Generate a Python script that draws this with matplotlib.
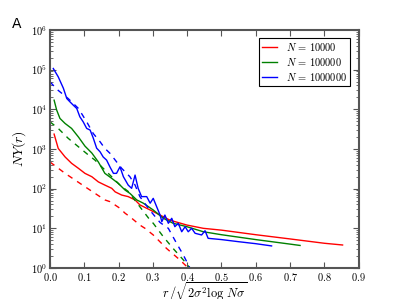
import math
import matplotlib
matplotlib.use("Agg")
import matplotlib.pyplot as plt
from matplotlib.ticker import FuncFormatter, LogLocator, FixedLocator

plt.rcParams['mathtext.fontset'] = 'cm'
plt.rcParams['xtick.direction'] = 'in'
plt.rcParams['ytick.direction'] = 'in'

# simulated curves (solid)
r_red = [0.012, 0.024, 0.044, 0.063, 0.083, 0.102, 0.122, 0.141, 0.160, 0.180,
         0.190, 0.209, 0.228, 0.248, 0.262, 0.292, 0.321, 0.350, 0.399, 0.447,
         0.500, 0.600, 0.700, 0.800, 0.853]
y_red = [2370, 1035, 630, 435, 325, 243, 200, 148, 123, 102,
         83, 69, 63, 52, 39, 29, 21.6, 16, 12.1, 10,
         9.0, 6.9, 5.4, 4.2, 3.8]

r_green = [0.012, 0.0195, 0.029, 0.044, 0.063, 0.083, 0.102, 0.122, 0.141, 0.160,
           0.180, 0.199, 0.219, 0.233, 0.253, 0.272, 0.301, 0.330, 0.359, 0.399,
           0.447, 0.500, 0.600, 0.700, 0.729]
y_green = [17000, 9550, 5900, 4400, 3300, 2000, 1180, 790, 470, 243,
           182, 136, 92, 76, 52, 43, 29, 18, 13.4, 11,
           8.2, 6.9, 5.2, 4.0, 3.7]

r_blue = [0.0096, 0.024, 0.039, 0.049, 0.058, 0.068, 0.078, 0.087, 0.097, 0.107,
          0.117, 0.126, 0.136, 0.146, 0.155, 0.165, 0.175, 0.185, 0.194, 0.204,
          0.214, 0.228, 0.238, 0.248, 0.257, 0.267, 0.282, 0.292, 0.301, 0.311,
          0.321, 0.326, 0.335, 0.345, 0.355, 0.364, 0.374, 0.384, 0.394, 0.403,
          0.413, 0.423, 0.442, 0.452, 0.461, 0.500, 0.550, 0.600, 0.646]
y_blue = [107000, 66000, 34000, 18700, 15500, 12700, 10500, 6500, 4800, 3300,
          3000, 1900, 1050, 850, 630, 525, 350, 243, 243, 355,
          200, 123, 102, 220, 102, 63, 63, 43, 57, 35,
          21.6, 14.7, 21.6, 13.4, 17.9, 11, 13.4, 8.2, 11, 8.2,
          10, 7.5, 6.8, 8.7, 5.6, 5.2, 4.6, 4.1, 3.6]

# theory curves (dashed)
r_red_th = [0.0, 0.044, 0.102, 0.160, 0.175, 0.204, 0.219, 0.233, 0.262, 0.277,
            0.301, 0.340, 0.379, 0.403]
y_red_th = [470, 243, 112, 52, 47, 32, 24, 19.6, 12.1, 10,
            6.8, 3.1, 1.59, 1.0]

r_green_th = [0.0, 0.024, 0.053, 0.083, 0.112, 0.131, 0.175, 0.204, 0.228, 0.262,
              0.292, 0.301, 0.330, 0.359, 0.389, 0.408]
y_green_th = [4840, 3300, 1860, 1135, 705, 525, 220, 123, 85, 35,
              16, 13.4, 6.2, 3.1, 1.59, 1.0]

r_blue_th = [0.0, 0.024, 0.053, 0.083, 0.107, 0.126, 0.146, 0.160, 0.175, 0.194,
             0.209, 0.233, 0.248, 0.262, 0.292, 0.321, 0.345, 0.369, 0.389, 0.408]
y_blue_th = [49000, 30000, 18700, 10500, 4840, 2460, 1520, 1035, 775, 475,
             325, 200, 123, 63, 28, 14, 10, 4.2, 2.1, 1.0]

labels = [r'$N\,=\,10000$', r'$N\,=\,100000$', r'$N\,=\,1000000$']
xticks = [0.0, 0.1, 0.2, 0.3, 0.4, 0.5, 0.6, 0.7, 0.8, 0.9]

fig = plt.figure(figsize=(3.99, 2.99), dpi=100)
ax = fig.add_axes([0.1253, 0.1037, 0.7737, 0.796])

ax.plot(r_red, y_red, color='r', lw=1.0, label=labels[0])
ax.plot(r_green, y_green, color='g', lw=1.0, label=labels[1])
ax.plot(r_blue, y_blue, color='b', lw=1.0, label=labels[2])
ax.plot(r_red_th, y_red_th, color='r', lw=1.0, ls='--', dashes=(4, 4))
ax.plot(r_green_th, y_green_th, color='g', lw=1.0, ls='--', dashes=(4, 4))
ax.plot(r_blue_th, y_blue_th, color='b', lw=1.0, ls='--', dashes=(4, 4))

ax.set_yscale('log')
ax.set_xlim(0, 0.9)
ax.set_ylim(1, 1e6)
ax.xaxis.set_major_locator(FixedLocator(xticks))
ax.xaxis.set_major_formatter(FuncFormatter(lambda v, p: r'$%.1f$' % v))
ax.yaxis.set_major_locator(LogLocator(base=10, numticks=10))
ax.yaxis.set_minor_locator(LogLocator(base=10, subs=range(2, 10), numticks=20))
ax.yaxis.set_major_formatter(FuncFormatter(lambda v, p: r'$10^{%d}$' % round(math.log10(v))))
ax.tick_params(which='both', top=True, right=True, labelsize=7.5, color='#555555')
ax.tick_params(which='major', length=4, width=0.8, pad=2)
ax.tick_params(which='minor', length=2, width=0.6)
for s in ax.spines.values():
    s.set_color('#555555')
    s.set_linewidth(1.5)

ax.set_xlabel(r'$r\,/\sqrt{2\sigma^2\log\,N\sigma}$', fontsize=9)
ax.xaxis.set_label_coords(0.5, -0.05)
ax.set_ylabel(r'$NY(r)$', fontsize=10, labelpad=2)

leg = ax.legend(loc='upper right', fontsize=7.5, handlelength=1.4, handletextpad=0.9,
                borderpad=0.3, labelspacing=0.3, fancybox=False, framealpha=1.0,
                bbox_to_anchor=(0.99, 0.99))
leg.get_frame().set_edgecolor('black')
leg.get_frame().set_linewidth(0.8)

fig.text(0.03, 0.905, 'A', fontsize=10, family='DejaVu Sans')

fig.savefig('out.png', dpi=100)
